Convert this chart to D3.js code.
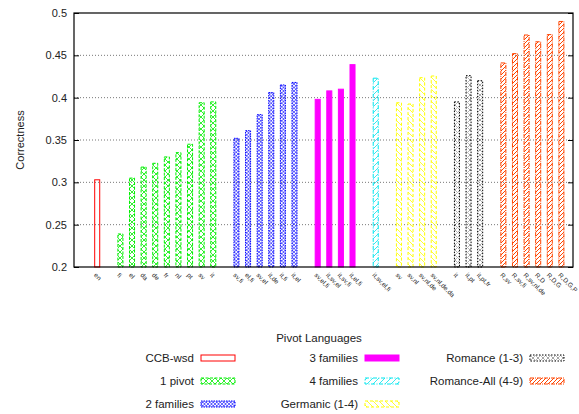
<!DOCTYPE html>
<html>
<head>
<meta charset="utf-8">
<script src="https://cdn.jsdelivr.net/npm/d3@7"></script>
<style>
  body { margin: 0; background: #fff; }
  text { font-family: "Liberation Sans", Arial, sans-serif; fill: #222; }
</style>
</head>
<body>
<svg id="chart" width="579" height="414"></svg>
<script>
// series, in the order they are drawn left to right
const seriesNames = ["CCB-wsd", "1 pivot", "2 families", "3 families", "4 families", "Germanic (1-4)", "Romance (1-3)", "Romance-All (4-9)"]

const ccbLabels = ["en"]
const ccbValues = [0.303]
const onePivotLabels = ["fi", "el", "da", "de", "fr", "nl", "pt", "sv", "it"]
const onePivotValues = [0.239, 0.305, 0.318, 0.3225, 0.330, 0.335, 0.345, 0.394, 0.395]
const twoFamLabels = ["sv,fi", "el,fi", "sv,el", "it,de", "it,fi", "it,el"]
const twoFamValues = [0.352, 0.361, 0.380, 0.406, 0.415, 0.418]
const threeFamLabels = ["sv,el,fi", "it,sv,el", "it,sv,fi", "it,el,fi"]
const threeFamValues = [0.398, 0.408, 0.410, 0.439]
const fourFamLabels = ["it,sv,el,fi"]
const fourFamValues = [0.423]
const germanicLabels = ["sv", "sv,nl", "sv,nl,de", "sv,nl,de,da"]
const germanicValues = [0.394, 0.3925, 0.4236, 0.4256]
const romanceLabels = ["it", "it,pt", "it,pt,fr"]
const romanceValues = [0.395, 0.426, 0.420]
const romanceAllLabels = ["R,sv", "R,sv,fi", "R,sv,nl,de", "R,D", "R,D,G", "R,D,G,P"]
const romanceAllValues = [0.441, 0.452, 0.474, 0.466, 0.4745, 0.490]

const yTicks = [0.2, 0.25, 0.3, 0.35, 0.4, 0.45, 0.5]

const allLabels = [ccbLabels, onePivotLabels, twoFamLabels, threeFamLabels, fourFamLabels, germanicLabels, romanceLabels, romanceAllLabels]
const allValues = [ccbValues, onePivotValues, twoFamValues, threeFamValues, fourFamValues, germanicValues, romanceValues, romanceAllValues]

// look of each series: colour, pattern id, border dash
const styles = [
  { color: "#ff0000", fill: "none", dash: null },
  { color: "#00ee00", fill: "url(#pat-green)", dash: "3,1.5" },
  { color: "#0000ff", fill: "url(#pat-blue)", dash: "1.5,1" },
  { color: "#ff00ff", fill: "#ff00ff", dash: null },
  { color: "#00e5ee", fill: "url(#pat-cyan)", dash: "4,1.5,1,1.5" },
  { color: "#ffff00", fill: "url(#pat-yellow)", dash: "3,2" },
  { color: "#000000", fill: "url(#pat-black)", dash: "1.5,1.5" },
  { color: "#ff4500", fill: "url(#pat-orange)", dash: "4,1,1,1" }
]

// flatten into bars with a slot index, one empty slot between series
let bars = []
let slot = 0
allValues.forEach((vals, s) => {
  vals.forEach((v, i) => {
    bars.push({ series: s, label: allLabels[s][i], value: v, pos: slot })
    slot++
  })
  slot++
})

const svg = d3.select("#chart")
const plotLeft = 74, plotRight = 573, plotTop = 13, plotBottom = 267

const x = d3.scaleLinear().domain([-2, 41]).range([plotLeft, plotRight])
const y = d3.scaleLinear().domain([0.2, 0.5]).range([plotBottom, plotTop])
const barW = x(0.26) - x(-0.26)

// patterns
const defs = svg.append("defs")
const addPattern = (id, size, color, paths, width, dash) => {
  const p = defs.append("pattern")
    .attr("id", id)
    .attr("patternUnits", "userSpaceOnUse")
    .attr("width", size).attr("height", size)
  paths.forEach(d => p.append("path").attr("d", d).attr("stroke", color)
    .attr("stroke-width", width).attr("stroke-dasharray", dash || null).attr("fill", "none"))
}
addPattern("pat-green", 6, "#00ee00", ["M0,0L6,6", "M6,0L0,6"], 0.8)
addPattern("pat-blue", 3.5, "#0000ff", ["M0,0L3.5,3.5", "M3.5,0L0,3.5"], 0.6)
addPattern("pat-cyan", 6, "#00e5ee", ["M0,6L6,0", "M-1,1L1,-1", "M5,7L7,5"], 0.8)
addPattern("pat-yellow", 6, "#ffff00", ["M0,0L6,6", "M-1,5L1,7", "M5,-1L7,1"], 0.8)
addPattern("pat-black", 5, "#000000", ["M0,0L5,5", "M5,0L0,5"], 0.5, "1,1")
addPattern("pat-orange", 4, "#ff4500", ["M0,4L4,0", "M-1,1L1,-1", "M3,5L5,3"], 1)

// grid
svg.append("g")
  .selectAll("line")
  .data(yTicks.slice(1, -1))
  .enter()
  .append("line")
    .attr("x1", plotLeft).attr("x2", plotRight)
    .attr("y1", d => y(d)).attr("y2", d => y(d))
    .attr("stroke", "#777")
    .attr("stroke-width", 1)
    .attr("stroke-dasharray", "1,2")

// bars
svg.append("g")
  .selectAll("rect")
  .data(bars)
  .enter()
  .append("rect")
    .attr("x", d => x(d.pos) - barW / 2 + 0.5)
    .attr("y", d => y(d.value))
    .attr("width", barW - 1)
    .attr("height", d => y(0.2) - y(d.value))
    .attr("fill", d => styles[d.series].fill)
    .attr("stroke", d => styles[d.series].color)
    .attr("stroke-width", 1)
    .attr("stroke-dasharray", d => styles[d.series].dash)

// axes
const yAxisL = d3.axisLeft(y).tickValues(yTicks).tickFormat(d3.format("")).tickSize(-5).tickPadding(7)
const yAxisR = d3.axisRight(y).tickValues(yTicks).tickFormat("").tickSize(-5)

const gl = svg.append("g").attr("transform", `translate(${plotLeft},0)`).call(yAxisL)
gl.select(".domain").remove()
gl.selectAll("text").style("font-size", "11px").style("font-family", "Liberation Sans, Arial, sans-serif").attr("fill", "#222")
const gr = svg.append("g").attr("transform", `translate(${plotRight},0)`).call(yAxisR)
gr.select(".domain").remove()

svg.append("rect")
  .attr("x", plotLeft).attr("y", plotTop)
  .attr("width", plotRight - plotLeft).attr("height", plotBottom - plotTop)
  .attr("fill", "none").attr("stroke", "#000").attr("stroke-width", 1.2)

// x labels, rotated
svg.append("g")
  .selectAll("text")
  .data(bars)
  .enter()
  .append("text")
    .attr("transform", d => `translate(${x(d.pos) - 2},${plotBottom + 7}) rotate(45)`)
    .attr("dy", "0.35em")
    .style("font-size", "6.5px")
    .attr("fill", "#555")
    .text(d => d.label)

svg.append("text")
  .attr("transform", `translate(24,${(plotTop + plotBottom) / 2}) rotate(-90)`)
  .attr("text-anchor", "middle")
  .style("font-size", "11px")
  .text("Correctness")

// legend
svg.append("text")
  .attr("x", 319).attr("y", 342)
  .attr("text-anchor", "middle")
  .style("font-size", "11.5px")
  .text("Pivot Languages")

const legendCols = [194, 358, 523]
const legendRows = [358, 381, 404]
const legend = svg.append("g")
  .selectAll("g")
  .data(seriesNames)
  .enter()
  .append("g")
    .attr("transform", (d, i) => `translate(${legendCols[Math.floor(i / 3)]},${legendRows[i % 3]})`)

legend.append("text")
  .attr("text-anchor", "end")
  .attr("dy", "0.35em")
  .style("font-size", "11.5px")
  .text(d => d)

legend.append("rect")
  .attr("x", 7).attr("y", -3)
  .attr("width", 34).attr("height", 6)
  .attr("fill", (d, i) => styles[i].fill)
  .attr("stroke", (d, i) => styles[i].color)
  .attr("stroke-width", 1)
  .attr("stroke-dasharray", (d, i) => styles[i].dash)
</script>
</body>
</html>
